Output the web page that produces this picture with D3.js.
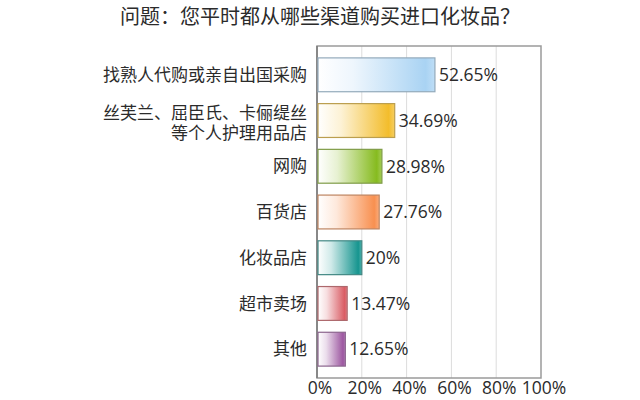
<!DOCTYPE html>
<html lang="zh-CN">
<head>
<meta charset="utf-8">
<title>进口化妆品购买渠道</title>
<script src="https://d3js.org/d3.v7.min.js"></script>
<style>
  html, body { margin: 0; padding: 0; background: #fff; }
  svg text { font-family: "Noto Sans CJK SC", "Noto Sans", sans-serif; fill: #2b2b2b; }
  .num { font-family: "Open Sans", "Noto Sans", sans-serif; }
</style>
</head>
<body>
<svg id="chart" width="640" height="400"></svg>
<script>
// data
var title = "问题：您平时都从哪些渠道购买进口化妆品？";
var categories = [
  ["找熟人代购或亲自出国采购"],
  ["丝芙兰、屈臣氏、卡俪缇丝", "等个人护理用品店"],
  ["网购"],
  ["百货店"],
  ["化妆品店"],
  ["超市卖场"],
  ["其他"]
];
var values = [52.65, 34.69, 28.98, 27.76, 20, 13.47, 12.65];
var colors = ["#a9d3f3", "#f3bd2c", "#86bb1f", "#f89050", "#16958f", "#d95b63", "#9c56a0"];
var ticks = [0, 20, 40, 60, 80, 100];

var svg = d3.select("#chart")
// plot box (window.top is taken, so own names)
var plotL = 317, plotR = 541, plotT = 46, plotB = 378

var x = d3.scaleLinear().domain([0, 100]).range([plotL, plotR])
var y = d3.scaleBand().domain(d3.range(values.length)).range([plotT, plotB]).padding(0.26)

svg.append("text")
  .attr("x", 320).attr("y", 24)
  .attr("text-anchor", "middle")
  .style("font-size", "20px")
  .text(title)

// gradients, white on the left to the colour on the right
var defs = svg.append("defs")
colors.forEach(function(c, i) {
  var g = defs.append("linearGradient").attr("id", "g" + i)
    .attr("x1", "0%").attr("x2", "100%").attr("y1", "0%").attr("y2", "0%")
  g.append("stop").attr("offset", "0%").attr("stop-color", "#ffffff")
  g.append("stop").attr("offset", "30%").attr("stop-color", d3.interpolateRgb("#ffffff", c)(0.2))
  g.append("stop").attr("offset", "92%").attr("stop-color", c)
  g.append("stop").attr("offset", "100%").attr("stop-color", d3.interpolateRgb(c, "#ffffff")(0.25))
})

// grid
svg.append("g").selectAll("line")
  .data(ticks.slice(1, -1))
  .join("line")
  .attr("x1", d => x(d)).attr("x2", d => x(d))
  .attr("y1", plotT).attr("y2", plotB)
  .attr("stroke", "#dcdcdc").attr("stroke-width", 1)

// frame
svg.append("rect")
  .attr("x", plotL).attr("y", plotT)
  .attr("width", plotR - plotL).attr("height", plotB - plotT)
  .attr("fill", "none").attr("stroke", "#9a9a9a").attr("stroke-width", 1.5)
svg.append("line")
  .attr("x1", plotL).attr("x2", plotL).attr("y1", plotT).attr("y2", plotB)
  .attr("stroke", "#7a7a7a").attr("stroke-width", 1.5)

// bars
svg.append("g").selectAll("rect")
  .data(values)
  .join("rect")
  .attr("x", x(0) + 1)
  .attr("y", (d, i) => y(i))
  .attr("width", d => x(d) - x(0) - 1)
  .attr("height", y.bandwidth())
  .attr("fill", (d, i) => "url(#g" + i + ")")
  .attr("stroke", (d, i) => d3.interpolateRgb(colors[i], "#777777")(0.45))
  .attr("stroke-width", 1.2)

// value labels
svg.append("g").selectAll("text")
  .data(values)
  .join("text")
  .attr("class", "num")
  .attr("x", d => x(d) + 4)
  .attr("y", (d, i) => y(i) + y.bandwidth() / 2)
  .attr("dy", "0.36em")
  .style("font-size", "17.5px")
  .text(d => d + "%")

// category labels
var cat = svg.append("g").selectAll("text")
  .data(categories)
  .join("text")
  .attr("x", 307)
  .attr("y", (d, i) => y(i) + y.bandwidth() / 2 + (d.length > 1 ? -8 : 0))
  .attr("text-anchor", "end")
  .style("font-size", "17px")
cat.selectAll("tspan")
  .data(d => d)
  .join("tspan")
  .attr("x", 307)
  .attr("dy", (d, j) => j === 0 ? "0.36em" : "20px")
  .text(d => d)

// x tick labels
svg.append("g").selectAll("text")
  .data(ticks)
  .join("text")
  .attr("class", "num")
  .attr("x", d => x(d) + 3)
  .attr("y", 394)
  .attr("text-anchor", "middle")
  .style("font-size", "17.5px")
  .text(d => d + "%")
</script>
</body>
</html>
